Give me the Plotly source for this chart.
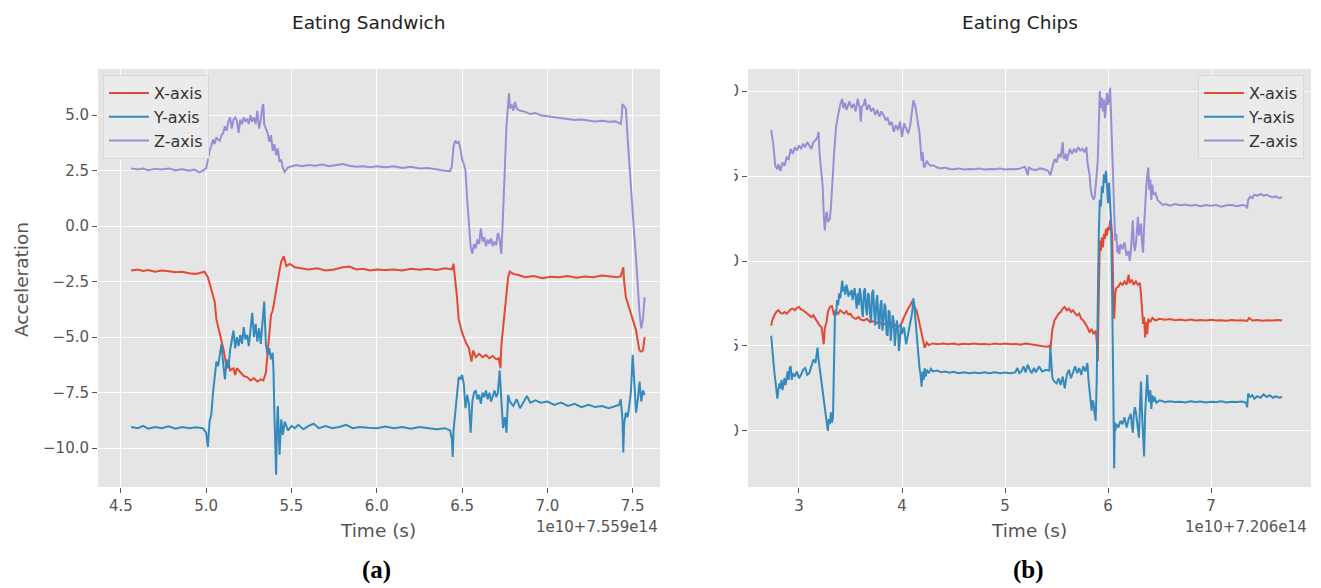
import plotly.graph_objects as go

W, H = 1321, 588

# ---------------- data: Eating Sandwich (time in 1e10 units, offset 7.559e14) -------------
sandwich_x = [
    (4.56, -2.0), (4.60, -1.95), (4.63, -2.02), (4.66, -1.98), (4.70, -2.05), (4.74, -2.0),
    (4.78, -2.03), (4.82, -2.08), (4.86, -2.05), (4.90, -2.12), (4.94, -2.15), (4.97, -2.1),
    (4.99, -2.05), (5.01, -2.3), (5.03, -2.9), (5.05, -3.4), (5.06, -4.2), (5.08, -4.8),
    (5.10, -5.5), (5.11, -5.9), (5.12, -6.4), (5.13, -6.1), (5.14, -6.5), (5.16, -6.4),
    (5.17, -6.7), (5.18, -6.4), (5.20, -6.6), (5.22, -6.75), (5.24, -6.8), (5.26, -6.95),
    (5.28, -6.85), (5.30, -7.0), (5.32, -6.9), (5.335, -6.95), (5.35, -6.6), (5.36, -5.6),
    (5.37, -4.6), (5.38, -4.0), (5.39, -3.8), (5.40, -3.3), (5.41, -3.0), (5.42, -2.5),
    (5.43, -2.0), (5.44, -1.6), (5.455, -1.35), (5.47, -1.8), (5.49, -1.7), (5.52, -1.85),
    (5.56, -1.9), (5.60, -1.95), (5.65, -1.9), (5.70, -2.0), (5.75, -1.95), (5.80, -1.85),
    (5.84, -1.82), (5.88, -1.95), (5.92, -1.92), (5.96, -2.0), (6.00, -1.95), (6.05, -1.98),
    (6.10, -1.95), (6.15, -2.0), (6.20, -1.92), (6.25, -1.96), (6.30, -1.92), (6.35, -1.97),
    (6.40, -1.9), (6.44, -1.95), (6.45, -1.7), (6.46, -2.4), (6.47, -3.2), (6.48, -4.2),
    (6.50, -4.8), (6.52, -5.2), (6.54, -5.5), (6.555, -6.1), (6.565, -5.6), (6.58, -5.9),
    (6.60, -5.75), (6.62, -5.9), (6.64, -5.8), (6.66, -5.95), (6.68, -5.85), (6.70, -6.0),
    (6.715, -5.95), (6.725, -6.4), (6.73, -5.4), (6.74, -4.6), (6.75, -3.9), (6.76, -3.0),
    (6.77, -2.3), (6.78, -2.05), (6.80, -2.15), (6.83, -2.2), (6.87, -2.3), (6.92, -2.25),
    (6.97, -2.35), (7.02, -2.28), (7.07, -2.3), (7.12, -2.25), (7.17, -2.32), (7.22, -2.27),
    (7.27, -2.3), (7.32, -2.22), (7.37, -2.25), (7.41, -2.3), (7.43, -2.25), (7.445, -1.85),
    (7.45, -2.5), (7.46, -3.2), (7.48, -3.7), (7.50, -4.2), (7.52, -4.7), (7.53, -5.2),
    (7.54, -5.6), (7.55, -5.65), (7.56, -5.6), (7.57, -5.0),
]
sandwich_y = [
    (4.56, -9.05), (4.60, -9.1), (4.63, -9.0), (4.66, -9.12), (4.70, -9.05), (4.74, -9.1),
    (4.78, -9.02), (4.82, -9.12), (4.86, -9.05), (4.90, -9.1), (4.94, -9.06), (4.98, -9.1),
    (5.00, -9.3), (5.01, -9.95), (5.02, -8.8), (5.03, -8.5), (5.04, -7.5), (5.05, -6.8),
    (5.06, -6.1), (5.07, -6.3), (5.08, -5.8), (5.09, -5.3), (5.10, -6.2), (5.11, -6.9),
    (5.12, -6.0), (5.13, -6.4), (5.14, -5.6), (5.15, -5.2), (5.16, -4.7), (5.17, -5.5),
    (5.18, -5.0), (5.19, -5.4), (5.20, -4.9), (5.21, -5.3), (5.22, -4.55), (5.23, -5.1),
    (5.24, -4.9), (5.25, -5.4), (5.26, -4.5), (5.27, -3.9), (5.28, -5.0), (5.29, -4.4),
    (5.30, -5.2), (5.31, -4.6), (5.32, -5.3), (5.33, -4.2), (5.34, -3.4), (5.35, -5.3),
    (5.36, -5.8), (5.37, -5.5), (5.38, -6.0), (5.39, -5.7), (5.395, -6.6), (5.40, -8.5),
    (5.405, -9.5), (5.41, -11.2), (5.415, -9.0), (5.42, -8.1), (5.43, -10.3), (5.44, -8.7),
    (5.45, -9.4), (5.46, -8.8), (5.48, -9.2), (5.50, -9.0), (5.52, -9.1), (5.54, -8.95),
    (5.57, -9.15), (5.60, -9.0), (5.63, -8.9), (5.66, -9.1), (5.70, -9.0), (5.74, -9.1),
    (5.78, -9.05), (5.82, -8.95), (5.86, -9.1), (5.90, -9.05), (5.95, -9.08), (6.00, -9.1),
    (6.05, -9.02), (6.10, -9.1), (6.15, -9.05), (6.20, -9.12), (6.25, -9.05), (6.30, -9.1),
    (6.35, -9.15), (6.40, -9.1), (6.43, -9.2), (6.44, -9.6), (6.445, -10.4), (6.45, -9.2),
    (6.46, -8.3), (6.47, -7.5), (6.48, -6.8), (6.49, -6.9), (6.50, -6.7), (6.51, -7.1),
    (6.52, -8.2), (6.53, -7.6), (6.54, -8.0), (6.55, -9.3), (6.56, -7.9), (6.57, -7.5),
    (6.58, -7.4), (6.59, -7.8), (6.60, -7.6), (6.61, -8.0), (6.62, -7.5), (6.63, -7.7),
    (6.64, -7.4), (6.65, -7.8), (6.66, -7.5), (6.67, -7.9), (6.68, -7.6), (6.69, -7.4),
    (6.70, -7.7), (6.71, -7.5), (6.72, -6.5), (6.73, -8.0), (6.74, -9.1), (6.75, -8.6),
    (6.76, -9.3), (6.77, -7.6), (6.78, -7.9), (6.80, -8.1), (6.82, -7.8), (6.84, -8.2),
    (6.86, -7.9), (6.88, -7.65), (6.90, -7.95), (6.93, -7.85), (6.96, -7.95), (7.00, -7.9),
    (7.04, -8.05), (7.08, -7.95), (7.12, -8.1), (7.16, -8.0), (7.20, -8.15), (7.24, -8.05),
    (7.28, -8.15), (7.32, -8.1), (7.36, -8.2), (7.40, -8.1), (7.42, -8.05), (7.43, -7.8),
    (7.44, -8.7), (7.445, -10.2), (7.45, -8.9), (7.46, -8.4), (7.47, -8.6), (7.48, -8.1),
    (7.49, -7.4), (7.50, -5.8), (7.505, -6.6), (7.51, -7.4), (7.52, -8.4), (7.53, -7.8),
    (7.54, -7.0), (7.55, -7.9), (7.56, -7.4), (7.57, -7.6),
]
sandwich_z = [
    (4.56, 2.6), (4.60, 2.55), (4.63, 2.6), (4.66, 2.52), (4.70, 2.58), (4.74, 2.55),
    (4.78, 2.6), (4.82, 2.52), (4.86, 2.56), (4.90, 2.5), (4.93, 2.55), (4.96, 2.42),
    (4.98, 2.5), (5.00, 2.6), (5.01, 3.0), (5.02, 3.4), (5.03, 3.6), (5.04, 3.9),
    (5.05, 3.7), (5.06, 4.0), (5.07, 3.9), (5.08, 3.85), (5.09, 4.1), (5.10, 4.2),
    (5.11, 4.5), (5.12, 4.3), (5.13, 4.7), (5.14, 4.9), (5.15, 4.4), (5.16, 4.8),
    (5.17, 4.9), (5.18, 4.75), (5.19, 4.2), (5.20, 4.8), (5.21, 4.6), (5.22, 4.9),
    (5.23, 4.7), (5.24, 4.85), (5.25, 4.6), (5.26, 5.0), (5.27, 4.7), (5.28, 4.9),
    (5.29, 4.6), (5.30, 5.2), (5.31, 4.4), (5.32, 4.8), (5.33, 5.4), (5.335, 5.5),
    (5.34, 4.6), (5.35, 4.4), (5.36, 4.2), (5.37, 3.8), (5.38, 4.1), (5.39, 3.4),
    (5.40, 3.7), (5.41, 3.2), (5.42, 3.5), (5.43, 2.9), (5.44, 3.0), (5.45, 2.6),
    (5.46, 2.45), (5.48, 2.65), (5.50, 2.7), (5.53, 2.75), (5.56, 2.7), (5.60, 2.75),
    (5.64, 2.72), (5.68, 2.78), (5.72, 2.7), (5.76, 2.75), (5.80, 2.8), (5.84, 2.72),
    (5.88, 2.68), (5.92, 2.7), (5.96, 2.65), (6.00, 2.7), (6.05, 2.65), (6.10, 2.7),
    (6.15, 2.62), (6.20, 2.68), (6.25, 2.6), (6.30, 2.62), (6.35, 2.55), (6.40, 2.5),
    (6.43, 2.48), (6.44, 2.7), (6.45, 3.6), (6.46, 3.85), (6.47, 3.75), (6.48, 3.8),
    (6.49, 3.5), (6.50, 3.0), (6.51, 2.8), (6.52, 2.5), (6.53, 1.2), (6.54, 0.0),
    (6.55, -0.9), (6.56, -1.25), (6.57, -0.8), (6.58, -1.0), (6.59, -0.6), (6.60, -0.8),
    (6.61, -0.1), (6.62, -0.7), (6.63, -0.5), (6.64, -0.9), (6.65, -0.6), (6.66, -0.8),
    (6.67, -0.55), (6.68, -0.9), (6.69, -0.7), (6.70, -0.85), (6.71, -0.3), (6.72, -0.6),
    (6.73, -1.25), (6.74, 0.5), (6.75, 2.5), (6.76, 4.5), (6.77, 5.5), (6.775, 6.0),
    (6.78, 5.3), (6.79, 5.5), (6.80, 5.2), (6.81, 5.6), (6.82, 5.3), (6.84, 5.2),
    (6.87, 5.15), (6.90, 5.05), (6.93, 5.1), (6.96, 5.0), (7.00, 4.95), (7.04, 4.9),
    (7.08, 4.85), (7.12, 4.82), (7.16, 4.78), (7.20, 4.8), (7.24, 4.75), (7.28, 4.72),
    (7.32, 4.75), (7.36, 4.7), (7.40, 4.72), (7.43, 4.6), (7.435, 4.9), (7.44, 5.5),
    (7.45, 5.4), (7.46, 5.3), (7.47, 4.0), (7.48, 2.8), (7.49, 1.5), (7.50, 0.4),
    (7.51, -0.5), (7.52, -1.5), (7.53, -2.8), (7.54, -3.9), (7.55, -4.6), (7.56, -4.2),
    (7.57, -3.2),
]

# ---------------- data: Eating Chips (time in 1e10 units, offset 7.206e14) -----------------
chips_x = [
    (2.73, -3.8), (2.74, -3.5), (2.76, -3.2), (2.78, -3.0), (2.80, -2.9), (2.82, -3.05),
    (2.84, -3.1), (2.86, -3.0), (2.88, -3.1), (2.90, -2.95), (2.92, -2.85), (2.94, -2.8),
    (2.96, -2.9), (2.98, -2.75), (3.00, -2.7), (3.02, -2.85), (3.04, -2.9), (3.06, -3.0),
    (3.08, -3.1), (3.10, -3.2), (3.12, -3.3), (3.14, -3.2), (3.16, -3.4), (3.18, -3.6),
    (3.20, -3.8), (3.22, -3.9), (3.24, -4.9), (3.25, -4.0), (3.27, -3.5), (3.28, -3.0),
    (3.30, -2.7), (3.32, -2.65), (3.34, -3.2), (3.36, -3.0), (3.38, -3.1), (3.40, -2.9),
    (3.42, -3.0), (3.44, -3.1), (3.46, -2.95), (3.48, -3.15), (3.50, -3.1), (3.52, -3.3),
    (3.55, -3.4), (3.58, -3.3), (3.60, -3.45), (3.63, -3.5), (3.66, -3.4), (3.69, -3.6),
    (3.72, -3.55), (3.75, -3.65), (3.78, -3.6), (3.81, -3.75), (3.84, -3.7), (3.87, -3.8),
    (3.90, -3.85), (3.93, -3.75), (3.96, -3.9), (3.98, -3.8), (4.00, -3.6), (4.02, -3.3),
    (4.04, -3.0), (4.06, -2.8), (4.08, -2.6), (4.10, -2.35), (4.12, -2.7), (4.14, -2.9),
    (4.16, -3.4), (4.18, -4.0), (4.20, -4.5), (4.22, -5.1), (4.24, -4.8), (4.26, -4.95),
    (4.30, -4.85), (4.35, -4.9), (4.40, -4.85), (4.45, -4.9), (4.50, -4.85), (4.55, -4.92),
    (4.60, -4.87), (4.65, -4.9), (4.70, -4.85), (4.75, -4.9), (4.80, -4.88), (4.85, -4.92),
    (4.90, -4.86), (4.95, -4.9), (5.00, -4.85), (5.05, -4.9), (5.10, -4.88), (5.15, -4.92),
    (5.20, -4.85), (5.25, -4.9), (5.30, -4.95), (5.35, -5.0), (5.40, -5.05), (5.43, -5.0),
    (5.44, -5.2), (5.45, -4.6), (5.46, -4.0), (5.48, -3.5), (5.50, -3.3), (5.52, -3.1),
    (5.54, -3.0), (5.56, -2.8), (5.58, -2.7), (5.60, -2.9), (5.62, -2.8), (5.64, -3.0),
    (5.66, -2.9), (5.68, -3.1), (5.70, -3.2), (5.72, -3.1), (5.74, -3.4), (5.76, -3.5),
    (5.78, -3.7), (5.80, -3.9), (5.82, -4.2), (5.84, -4.0), (5.86, -4.3), (5.88, -4.1),
    (5.89, -4.7), (5.90, -5.9), (5.91, -2.0), (5.92, 1.2), (5.93, 0.6), (5.94, 1.4),
    (5.95, 0.8), (5.96, 1.6), (5.97, 1.3), (5.98, 1.9), (5.99, 1.5), (6.00, 2.0),
    (6.01, 1.8), (6.02, 2.4), (6.03, 2.1), (6.04, 1.5), (6.05, -1.5), (6.06, -3.4),
    (6.07, -1.9), (6.08, -1.6), (6.10, -1.5), (6.12, -1.3), (6.14, -1.4), (6.16, -1.2),
    (6.18, -1.4), (6.20, -0.8), (6.21, -1.3), (6.23, -1.1), (6.25, -1.4), (6.27, -1.2),
    (6.29, -1.4), (6.31, -1.3), (6.32, -2.0), (6.33, -2.9), (6.34, -3.7), (6.35, -3.3),
    (6.36, -4.5), (6.37, -3.6), (6.38, -4.3), (6.39, -3.4), (6.41, -3.6), (6.43, -3.35),
    (6.46, -3.5), (6.50, -3.4), (6.55, -3.45), (6.60, -3.42), (6.65, -3.48), (6.70, -3.44),
    (6.75, -3.5), (6.80, -3.45), (6.85, -3.5), (6.90, -3.47), (6.95, -3.5), (7.00, -3.46),
    (7.05, -3.5), (7.10, -3.48), (7.15, -3.52), (7.20, -3.47), (7.25, -3.5), (7.30, -3.48),
    (7.35, -3.52), (7.37, -3.35), (7.40, -3.5), (7.45, -3.47), (7.50, -3.52), (7.55, -3.48),
    (7.60, -3.5), (7.65, -3.47), (7.69, -3.5),
]
chips_y = [
    (2.73, -4.4), (2.74, -5.3), (2.76, -6.5), (2.77, -7.0), (2.78, -7.5), (2.79, -8.1),
    (2.80, -7.6), (2.81, -7.2), (2.82, -7.5), (2.83, -7.0), (2.84, -7.6), (2.85, -7.2),
    (2.86, -6.9), (2.87, -7.3), (2.88, -6.8), (2.89, -6.5), (2.90, -7.0), (2.91, -6.3),
    (2.92, -6.2), (2.93, -7.0), (2.94, -6.6), (2.96, -6.8), (2.98, -6.5), (3.00, -6.9),
    (3.02, -6.7), (3.04, -6.4), (3.06, -6.3), (3.08, -6.7), (3.10, -6.6), (3.12, -6.2),
    (3.14, -5.8), (3.16, -6.0), (3.18, -5.1), (3.19, -5.8), (3.20, -6.3), (3.22, -7.2),
    (3.23, -7.8), (3.25, -8.8), (3.26, -9.2), (3.27, -9.8), (3.28, -10.0), (3.29, -9.3),
    (3.30, -9.6), (3.31, -8.9), (3.32, -9.5), (3.33, -9.2), (3.34, -6.0), (3.35, -2.9),
    (3.36, -3.2), (3.37, -2.3), (3.38, -2.6), (3.39, -1.9), (3.40, -2.2), (3.41, -1.6),
    (3.42, -1.15), (3.43, -1.8), (3.44, -1.5), (3.45, -2.0), (3.46, -1.4), (3.47, -1.6),
    (3.48, -2.1), (3.49, -1.8), (3.50, -2.0), (3.51, -1.7), (3.52, -2.3), (3.53, -1.9),
    (3.54, -1.6), (3.55, -2.2), (3.56, -2.8), (3.57, -1.9), (3.58, -2.6), (3.59, -1.6),
    (3.60, -2.0), (3.61, -2.9), (3.62, -3.3), (3.63, -1.8), (3.64, -1.6), (3.65, -2.8),
    (3.66, -3.2), (3.67, -1.9), (3.68, -2.0), (3.69, -3.2), (3.70, -3.6), (3.71, -1.9),
    (3.72, -1.7), (3.73, -3.0), (3.74, -3.8), (3.75, -2.4), (3.76, -2.0), (3.77, -3.4),
    (3.78, -4.0), (3.79, -2.6), (3.80, -2.3), (3.81, -4.1), (3.82, -3.6), (3.83, -2.5),
    (3.84, -2.7), (3.85, -4.3), (3.86, -4.4), (3.87, -2.9), (3.88, -3.0), (3.89, -4.7),
    (3.90, -3.8), (3.91, -3.2), (3.92, -3.6), (3.93, -5.0), (3.94, -4.2), (3.95, -3.5),
    (3.96, -4.0), (3.97, -5.3), (3.98, -4.6), (3.99, -3.7), (4.00, -4.3), (4.02, -3.9),
    (4.04, -4.9), (4.06, -4.2), (4.08, -3.6), (4.10, -3.0), (4.11, -2.2), (4.12, -2.6),
    (4.13, -3.4), (4.14, -4.3), (4.15, -5.0), (4.16, -5.6), (4.17, -6.3), (4.18, -6.7),
    (4.19, -7.4), (4.20, -6.5), (4.21, -7.0), (4.22, -6.3), (4.23, -6.8), (4.24, -6.4),
    (4.26, -6.6), (4.28, -6.35), (4.30, -6.5), (4.34, -6.45), (4.38, -6.55), (4.42, -6.5),
    (4.46, -6.58), (4.50, -6.52), (4.55, -6.6), (4.60, -6.55), (4.65, -6.6), (4.70, -6.56),
    (4.75, -6.6), (4.80, -6.55), (4.85, -6.6), (4.90, -6.55), (4.95, -6.6), (5.00, -6.56),
    (5.05, -6.6), (5.10, -6.55), (5.12, -6.3), (5.14, -6.6), (5.16, -6.5), (5.18, -6.2),
    (5.20, -6.55), (5.22, -6.1), (5.24, -6.4), (5.26, -6.6), (5.28, -6.3), (5.30, -6.55),
    (5.33, -6.2), (5.36, -6.5), (5.40, -6.4), (5.43, -6.45), (5.44, -5.1), (5.45, -5.8),
    (5.46, -6.9), (5.48, -7.1), (5.50, -7.2), (5.52, -6.9), (5.54, -7.3), (5.56, -6.8),
    (5.58, -7.5), (5.60, -6.7), (5.62, -6.4), (5.64, -6.9), (5.66, -6.5), (5.68, -6.2),
    (5.70, -6.6), (5.72, -6.3), (5.74, -6.7), (5.76, -6.2), (5.78, -6.5), (5.80, -6.0),
    (5.81, -7.0), (5.82, -7.6), (5.84, -8.8), (5.85, -8.2), (5.86, -8.4), (5.87, -9.0),
    (5.88, -9.4), (5.89, -7.0), (5.90, -2.0), (5.91, 1.5), (5.92, 3.6), (5.93, 3.2),
    (5.94, 4.4), (5.95, 4.0), (5.96, 5.1), (5.97, 4.6), (5.98, 5.3), (5.99, 4.2),
    (6.00, 3.4), (6.01, 4.6), (6.02, 3.5), (6.03, 2.2), (6.04, -2.0), (6.05, -6.0),
    (6.06, -12.2), (6.065, -9.5), (6.07, -10.0), (6.08, -9.6), (6.10, -9.8), (6.12, -9.4),
    (6.14, -9.6), (6.16, -9.2), (6.18, -9.8), (6.20, -9.3), (6.22, -9.0), (6.23, -9.6),
    (6.24, -10.1), (6.25, -9.0), (6.26, -8.6), (6.27, -8.9), (6.28, -9.4), (6.29, -10.0),
    (6.30, -10.4), (6.31, -8.5), (6.32, -7.1), (6.33, -9.0), (6.34, -10.5), (6.35, -11.5),
    (6.36, -9.0), (6.37, -7.3), (6.38, -6.7), (6.39, -7.8), (6.40, -8.3), (6.41, -7.6),
    (6.42, -8.7), (6.43, -7.9), (6.44, -8.3), (6.45, -8.0), (6.47, -8.35), (6.50, -8.2),
    (6.55, -8.3), (6.60, -8.25), (6.65, -8.3), (6.70, -8.28), (6.75, -8.32), (6.80, -8.25),
    (6.85, -8.3), (6.90, -8.27), (6.95, -8.32), (7.00, -8.28), (7.05, -8.3), (7.10, -8.25),
    (7.15, -8.32), (7.20, -8.28), (7.25, -8.3), (7.30, -8.27), (7.34, -8.35), (7.35, -8.6),
    (7.36, -7.8), (7.38, -8.0), (7.40, -7.9), (7.42, -8.1), (7.45, -7.95), (7.48, -8.05),
    (7.51, -7.85), (7.54, -8.0), (7.57, -7.9), (7.60, -8.05), (7.63, -7.95), (7.66, -8.05),
    (7.69, -8.0),
]
chips_z = [
    (2.73, 7.7), (2.75, 6.9), (2.77, 5.6), (2.79, 5.4), (2.80, 5.7), (2.82, 5.3),
    (2.84, 5.8), (2.86, 5.6), (2.88, 6.1), (2.90, 6.0), (2.92, 6.6), (2.94, 6.3),
    (2.96, 6.7), (2.98, 6.5), (3.00, 6.8), (3.02, 6.6), (3.04, 6.9), (3.06, 6.7),
    (3.08, 7.0), (3.10, 6.8), (3.12, 6.6), (3.14, 7.0), (3.16, 7.1), (3.18, 7.3),
    (3.19, 7.6), (3.20, 6.3), (3.21, 5.5), (3.23, 4.4), (3.24, 2.8), (3.25, 1.8),
    (3.26, 2.6), (3.27, 2.9), (3.28, 2.3), (3.30, 2.5), (3.31, 3.2), (3.32, 4.0),
    (3.33, 5.2), (3.34, 6.3), (3.35, 7.3), (3.36, 7.9), (3.38, 8.6), (3.39, 8.9),
    (3.40, 9.2), (3.42, 9.55), (3.43, 9.0), (3.45, 9.3), (3.46, 8.9), (3.48, 9.2),
    (3.49, 9.4), (3.51, 9.0), (3.53, 9.25), (3.55, 8.8), (3.57, 9.55), (3.59, 9.0),
    (3.60, 8.2), (3.61, 9.1), (3.63, 9.2), (3.64, 9.55), (3.66, 8.9), (3.68, 9.2),
    (3.70, 8.8), (3.72, 9.0), (3.74, 8.6), (3.76, 8.9), (3.78, 8.5), (3.80, 8.8),
    (3.82, 8.6), (3.84, 8.3), (3.86, 8.4), (3.88, 8.0), (3.90, 8.2), (3.92, 7.6),
    (3.94, 8.0), (3.96, 7.7), (3.98, 8.2), (4.00, 7.3), (4.02, 8.1), (4.04, 7.8),
    (4.06, 7.5), (4.08, 8.0), (4.10, 9.0), (4.11, 9.45), (4.13, 9.1), (4.14, 8.6),
    (4.16, 7.9), (4.17, 7.5), (4.18, 6.5), (4.19, 5.9), (4.20, 6.4), (4.21, 5.6),
    (4.22, 5.5), (4.24, 5.9), (4.26, 5.7), (4.28, 5.6), (4.30, 5.65), (4.34, 5.5),
    (4.38, 5.45), (4.42, 5.5), (4.46, 5.42), (4.50, 5.4), (4.55, 5.45), (4.60, 5.38),
    (4.65, 5.42), (4.70, 5.4), (4.75, 5.45), (4.80, 5.38), (4.85, 5.42), (4.90, 5.4),
    (4.95, 5.45), (5.00, 5.38), (5.05, 5.42), (5.10, 5.4), (5.15, 5.45), (5.19, 5.55),
    (5.21, 5.3), (5.22, 5.04), (5.23, 5.5), (5.26, 5.4), (5.30, 5.35), (5.34, 5.45),
    (5.38, 5.4), (5.42, 5.3), (5.44, 5.05), (5.46, 5.6), (5.48, 6.0), (5.50, 5.8),
    (5.52, 6.3), (5.54, 6.1), (5.56, 7.0), (5.57, 6.0), (5.59, 6.3), (5.60, 5.9),
    (5.62, 6.4), (5.63, 6.6), (5.65, 6.3), (5.67, 6.6), (5.69, 6.4), (5.71, 6.7),
    (5.73, 6.5), (5.75, 6.6), (5.77, 6.4), (5.79, 6.7), (5.80, 5.8), (5.82, 5.1),
    (5.83, 4.3), (5.84, 3.9), (5.86, 3.6), (5.87, 3.8), (5.88, 4.4), (5.89, 5.2),
    (5.90, 5.9), (5.91, 8.0), (5.92, 10.0), (5.93, 9.0), (5.94, 9.6), (5.95, 8.8),
    (5.96, 9.5), (5.97, 8.4), (5.98, 9.2), (5.99, 9.9), (6.00, 9.2), (6.01, 9.5),
    (6.02, 10.2), (6.03, 8.6), (6.04, 7.5), (6.05, 4.8), (6.06, 2.8), (6.07, 1.2),
    (6.08, 1.6), (6.09, 0.5), (6.10, 0.9), (6.11, 0.4), (6.12, 1.0), (6.14, 0.7),
    (6.16, 1.1), (6.18, 0.3), (6.20, 0.6), (6.21, 0.0), (6.22, 0.5), (6.23, 1.8),
    (6.24, 2.4), (6.25, 1.0), (6.26, 0.6), (6.27, 1.0), (6.28, 2.0), (6.29, 2.6),
    (6.30, 1.5), (6.31, 2.0), (6.32, 2.2), (6.33, 1.0), (6.34, 0.5), (6.35, 2.0),
    (6.36, 3.4), (6.37, 4.3), (6.38, 5.0), (6.39, 5.5), (6.40, 4.2), (6.41, 4.8),
    (6.42, 3.6), (6.43, 4.5), (6.44, 3.9), (6.46, 4.0), (6.48, 3.6), (6.50, 3.5),
    (6.53, 3.3), (6.56, 3.35), (6.60, 3.25), (6.65, 3.35), (6.70, 3.28), (6.75, 3.32),
    (6.80, 3.25), (6.85, 3.3), (6.90, 3.22), (6.95, 3.3), (7.00, 3.25), (7.05, 3.3),
    (7.10, 3.2), (7.15, 3.28), (7.20, 3.3), (7.25, 3.22), (7.30, 3.3), (7.34, 3.25),
    (7.35, 3.1), (7.36, 3.6), (7.38, 3.8), (7.40, 3.7), (7.42, 3.9), (7.45, 3.85),
    (7.48, 3.95), (7.51, 3.85), (7.54, 3.9), (7.57, 3.8), (7.60, 3.75), (7.63, 3.8),
    (7.66, 3.7), (7.69, 3.75),
]

series_names = ["X-axis", "Y-axis", "Z-axis"]
series_colors = ["#E24A33", "#348ABD", "#988ED5"]

sandwich_yticks = [5.0, 2.5, 0.0, -2.5, -5.0, -7.5, -10.0]
sandwich_xticks = [4.5, 5.0, 5.5, 6.0, 6.5, 7.0, 7.5]
chips_yticks = [10, 5, 0, -5, -10]
chips_xticks = [3, 4, 5, 6, 7]

# ---------------- figure ----------------
def px_x(p):
    return p / W

def px_y(p):
    return 1 - p / H

fig = go.Figure()

FONT = "DejaVu Sans, Verdana, sans-serif"
TICK_COLOR = "#555555"

panels = [
    ([sandwich_x, sandwich_y, sandwich_z], "x", "y", "legend"),
    ([chips_x, chips_y, chips_z], "x2", "y2", "legend2"),
]
for data, xa, ya, lg in panels:
    for name, color, pts in zip(series_names, series_colors, data):
        t = [p[0] for p in pts]
        v = [p[1] for p in pts]
        fig.add_trace(go.Scatter(
            x=t, y=v, mode="lines", name=name, xaxis=xa, yaxis=ya, legend=lg,
            legendgroup=lg + name,
            line=dict(color=color, width=2),
        ))

axis_common = dict(
    showgrid=True, gridcolor="white", gridwidth=1.3, zeroline=False,
    showline=False, ticks="outside", ticklen=5, tickwidth=1, tickcolor=TICK_COLOR,
    tickfont=dict(family=FONT, size=15, color=TICK_COLOR),
)

legend_common = dict(
    yanchor="top", bgcolor="rgba(235,235,235,0.95)", bordercolor="#d8d8d8", borderwidth=1,
    font=dict(family=FONT, size=16, color="#333333"), tracegroupgap=0, itemwidth=40,
)

ydom = [px_y(487), px_y(69)]
fig.update_layout(
    width=W, height=H,
    margin=dict(l=0, r=0, t=0, b=0),
    paper_bgcolor="white", plot_bgcolor="#E5E5E5",
    showlegend=True,
    xaxis=dict(domain=[px_x(98), px_x(660)], range=[4.366, 7.66],
               tickvals=sandwich_xticks, tickformat=".1f", anchor="y", **axis_common),
    yaxis=dict(domain=ydom, range=[-11.75, 7.08], tickvals=sandwich_yticks,
               tickformat=".1f", anchor="x", **axis_common),
    xaxis2=dict(domain=[px_x(748), px_x(1311)], range=[2.505, 7.97],
                tickvals=chips_xticks, tickformat="d", anchor="y2", **axis_common),
    yaxis2=dict(domain=ydom, range=[-13.3, 11.3], tickvals=chips_yticks,
                tickformat="d", anchor="x2", **axis_common),
    legend=dict(x=px_x(103), y=px_y(75), xanchor="left", **legend_common),
    legend2=dict(x=px_x(1304), y=px_y(75), xanchor="right", **legend_common),
)

annots = [
    dict(text="Eating Sandwich", x=368.7, y=22, size=18.5, color="#222222", angle=0),
    dict(text="Eating Chips", x=1020, y=22, size=18.5, color="#222222", angle=0),
    dict(text="Acceleration", x=21, y=280, size=18.5, color="#555555", angle=-90),
    dict(text="Time (s)", x=378, y=530, size=18.5, color="#555555", angle=0),
    dict(text="Time (s)", x=1029, y=530, size=18.5, color="#555555", angle=0),
]
for a in annots:
    fig.add_annotation(text=a["text"], xref="paper", yref="paper",
                       x=px_x(a["x"]), y=px_y(a["y"]), xanchor="center", yanchor="middle",
                       showarrow=False, textangle=a["angle"],
                       font=dict(family=FONT, size=a["size"], color=a["color"]))

for txt, xr in [("1e10+7.559e14", 660), ("1e10+7.206e14", 1309)]:
    fig.add_annotation(text=txt, xref="paper", yref="paper", x=px_x(xr), y=px_y(527),
                       xanchor="right", yanchor="middle", showarrow=False,
                       font=dict(family=FONT, size=15, color="#555555"))

for txt, xc in [("(a)", 376), ("(b)", 1028)]:
    fig.add_annotation(text="<b>" + txt + "</b>", xref="paper", yref="paper",
                       x=px_x(xc), y=px_y(570), xanchor="center", yanchor="middle",
                       showarrow=False,
                       font=dict(family="Liberation Serif, Times New Roman, serif",
                                 size=25, color="#000000"))

# the right panel's tick labels are cropped in the source figure
fig.add_shape(type="rect", xref="paper", yref="paper", layer="above",
              x0=px_x(676), x1=px_x(734.5), y0=px_y(487), y1=px_y(69),
              fillcolor="white", line=dict(width=0))

fig.write_html("out.html")
